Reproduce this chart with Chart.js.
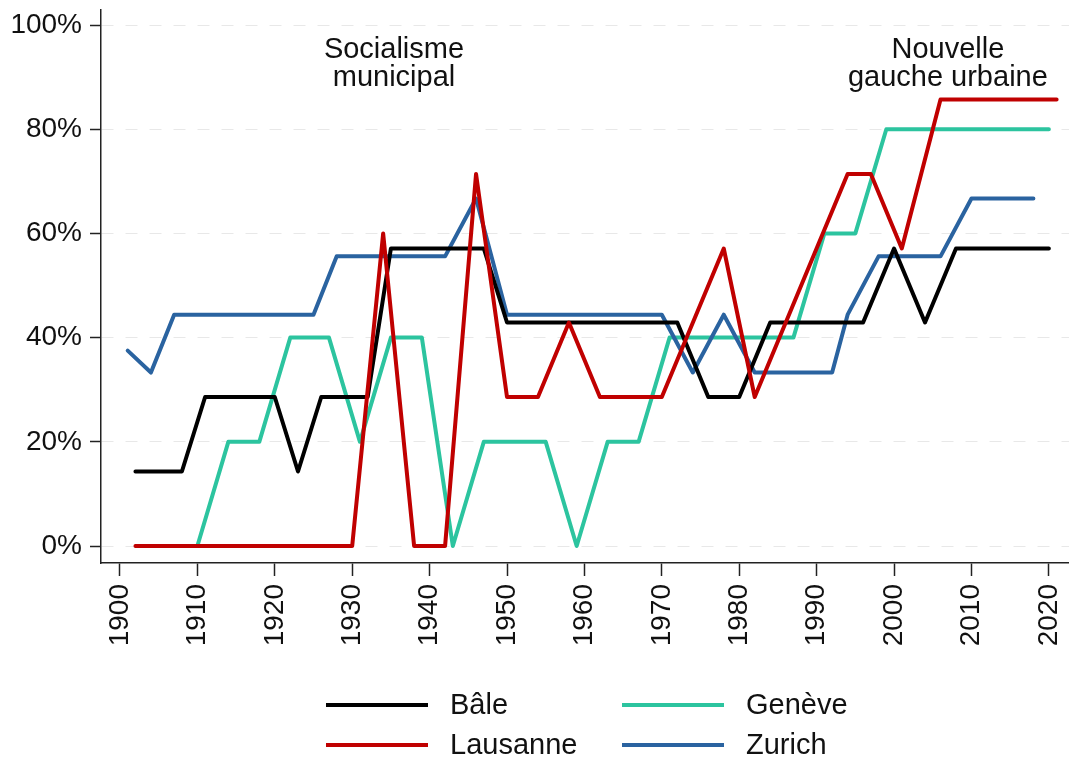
<!DOCTYPE html>
<html>
<head>
<meta charset="utf-8">
<script src="https://cdn.jsdelivr.net/npm/chart.js@4/dist/chart.umd.min.js"></script>
<style>
html,body{margin:0;padding:0;background:#fff;}
#wrap{width:1069px;height:758px;position:relative;}
</style>
</head>
<body>
<div id="wrap"><canvas id="c" width="1069" height="758"></canvas></div>
<script>
// ---------- DATA ----------
const seriesNames = ['Bâle', 'Genève', 'Lausanne', 'Zurich'];

const baleYears  = [1902, 1908, 1911, 1920, 1923, 1926, 1932, 1935, 1947, 1950, 1972, 1976, 1980, 1984, 1996, 2000, 2004, 2008, 2020];
const baleValues = [14.3, 14.3, 28.6, 28.6, 14.3, 28.6, 28.6, 57.1, 57.1, 42.9, 42.9, 28.6, 28.6, 42.9, 42.9, 57.1, 42.9, 57.1, 57.1];

const geneveYears  = [1910, 1914, 1918, 1922, 1927, 1931, 1935, 1939, 1943, 1947, 1955, 1959, 1963, 1967, 1971, 1987, 1991, 1995, 1999, 2020];
const geneveValues = [0, 20, 20, 40, 40, 20, 40, 40, 0, 20, 20, 0, 20, 20, 40, 40, 60, 60, 80, 80];

const lausanneYears  = [1902, 1930, 1934, 1938, 1942, 1946, 1950, 1954, 1958, 1962, 1970, 1978, 1982, 1994, 1997, 2001, 2006, 2021];
const lausanneValues = [0, 0, 60, 0, 0, 71.4, 28.6, 28.6, 42.9, 28.6, 28.6, 57.1, 28.6, 71.4, 71.4, 57.1, 85.7, 85.7];

const zurichYears  = [1901, 1904, 1907, 1925, 1928, 1942, 1946, 1950, 1970, 1974, 1978, 1982, 1992, 1994, 1998, 2006, 2010, 2018];
const zurichValues = [37.5, 33.3, 44.4, 44.4, 55.6, 55.6, 66.7, 44.4, 44.4, 33.3, 44.4, 33.3, 33.3, 44.4, 55.6, 55.6, 66.7, 66.7];

const xTickYears = [1900, 1910, 1920, 1930, 1940, 1950, 1960, 1970, 1980, 1990, 2000, 2010, 2020];
const yTickValues = [0, 20, 40, 60, 80, 100];

const annotationLeft = ['Socialisme', 'municipal'];
const annotationRight = ['Nouvelle', 'gauche urbaine'];

// ---------- STYLE ----------
const FONT = '"Liberation Sans", Arial, sans-serif';
const FS = 28;
const FS_TEXT = 29;
const TEXT = '#111111';
const AXIS = '#222222';
const LW = 4;
const colors = {
  'Bâle': '#000000',
  'Genève': '#2cc49f',
  'Lausanne': '#c00000',
  'Zurich': '#2a63a0'
};

function pts(xs, ys) { return xs.map((x, i) => ({ x: x, y: ys[i] })); }
const seriesData = {
  'Bâle': pts(baleYears, baleValues),
  'Genève': pts(geneveYears, geneveValues),
  'Lausanne': pts(lausanneYears, lausanneValues),
  'Zurich': pts(zurichYears, zurichValues)
};

// first dataset drawn on top
const drawOrder = ['Lausanne', 'Bâle', 'Zurich', 'Genève'];
const datasets = drawOrder.map(name => ({
  label: name,
  data: seriesData[name],
  borderColor: colors[name],
  backgroundColor: colors[name],
  borderWidth: LW,
  pointRadius: 0,
  pointHoverRadius: 0,
  tension: 0,
  fill: false,
  borderJoinStyle: 'round',
  borderCapStyle: 'round'
}));

// annotation placement in data coordinates
const annotations = [
  { lines: annotationLeft, x: 1935.4, y: [95.2, 89.8] },
  { lines: annotationRight, x: 2006.95, y: [95.2, 89.8] }
];

const annotationPlugin = {
  id: 'annot',
  afterDatasetsDraw(chart) {
    const { ctx, scales } = chart;
    ctx.save();
    ctx.font = FS_TEXT + 'px ' + FONT;
    ctx.fillStyle = TEXT;
    ctx.textAlign = 'center';
    ctx.textBaseline = 'middle';
    annotations.forEach(a => {
      const px = scales.x.getPixelForValue(a.x);
      a.lines.forEach((t, i) => {
        ctx.fillText(t, px, scales.y.getPixelForValue(a.y[i]));
      });
    });
    ctx.restore();
  }
};

// legend: 2 columns, row-major order of seriesNames
const legendLayout = { colX: [326, 622], rowY: [705, 745], lineLen: 102, textGap: 22 };
const legendPlugin = {
  id: 'customLegend',
  afterDraw(chart) {
    const ctx = chart.ctx;
    ctx.save();
    ctx.font = FS_TEXT + 'px ' + FONT;
    ctx.textBaseline = 'middle';
    ctx.textAlign = 'left';
    seriesNames.forEach((name, i) => {
      const col = i % 2, row = Math.floor(i / 2);
      const x = legendLayout.colX[col], y = legendLayout.rowY[row];
      ctx.strokeStyle = colors[name];
      ctx.lineWidth = LW;
      ctx.lineCap = 'butt';
      ctx.beginPath();
      ctx.moveTo(x, y);
      ctx.lineTo(x + legendLayout.lineLen, y);
      ctx.stroke();
      ctx.fillStyle = TEXT;
      ctx.fillText(name, x + legendLayout.lineLen + legendLayout.textGap, y + 1);
    });
    ctx.restore();
  }
};

function noPad(s) { s.paddingTop = 0; s.paddingBottom = 0; s.paddingLeft = 0; s.paddingRight = 0; }

new Chart(document.getElementById('c'), {
  type: 'line',
  data: { datasets: datasets },
  plugins: [annotationPlugin, legendPlugin],
  options: {
    responsive: false,
    devicePixelRatio: 1,
    animation: false,
    events: [],
    layout: { padding: { top: 10, right: 0, left: 0, bottom: 0 } },
    plugins: { legend: { display: false }, tooltip: { enabled: false } },
    scales: {
      x: {
        type: 'linear',
        min: 1897.55,
        max: 2022.6,
        afterBuildTicks: s => { s.ticks = xTickYears.map(v => ({ value: v })); },
        afterFit: s => { s.height = 195; noPad(s); },
        ticks: {
          autoSkip: false,
          minRotation: 90,
          maxRotation: 90,
          padding: 8,
          color: TEXT,
          font: { family: FONT, size: FS },
          callback: v => String(v)
        },
        grid: { drawOnChartArea: false, drawTicks: true, tickLength: 13, tickWidth: 1.5, tickColor: AXIS },
        border: { display: true, color: AXIS, width: 1.5 }
      },
      y: {
        min: -3.26,
        max: 102.88,
        afterBuildTicks: s => { s.ticks = yTickValues.map(v => ({ value: v })); },
        afterFit: s => { s.width = 101; noPad(s); },
        ticks: {
          padding: 8,
          color: TEXT,
          font: { family: FONT, size: FS },
          callback: v => v + '%'
        },
        grid: { color: '#e8e8e8', lineWidth: 1, drawTicks: true, tickLength: 11, tickWidth: 1.5, tickColor: AXIS },
        border: { display: true, color: AXIS, width: 1.5, dash: [12, 12] }
      }
    }
  }
});
</script>
</body>
</html>
